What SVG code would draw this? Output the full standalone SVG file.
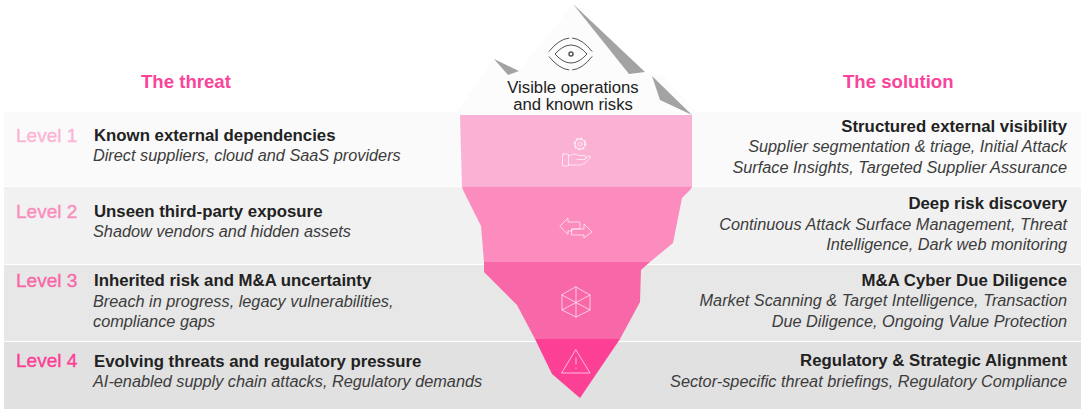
<svg xmlns="http://www.w3.org/2000/svg" width="1082" height="417" viewBox="0 0 1082 417">
<style>
text{font-family:"Liberation Sans",Arial,sans-serif}
.h{font-size:18.6px;font-weight:700;fill:#f9449a}
.l{font-size:19px;font-weight:400;stroke-width:.4px}
.t{font-size:16.8px;font-weight:700;fill:#222}
.s{font-size:16.3px;font-style:italic;fill:#3c3c3c}
.r{text-anchor:end}
.m{font-size:16.7px;fill:#222;text-anchor:middle}
.i{fill:none;stroke:#fff;stroke-opacity:.65;stroke-width:1;stroke-linejoin:round;stroke-linecap:round}
.e{fill:none;stroke:#555;stroke-width:1}
</style>
<rect width="1082" height="417" fill="#fff"/>
<g id="bands">
<rect x="4" y="112" width="1077" height="74" fill="#fafafa"/>
<rect x="4" y="187" width="1077" height="77" fill="#f1f1f1"/>
<rect x="4" y="265" width="1077" height="76" fill="#e7e7e7"/>
<rect x="4" y="342" width="1077" height="67" fill="#e1e1e1"/>
</g>
<g id="tip">
<path d="M457 112L494 59L519 71L573 4L629 74L645 72L653 76L663 75L697 112L692 115H460Z" fill="#fcfcfc"/>
<path d="M573 4L645 72L629 74Z" fill="#a3a3a3"/>
<path d="M494 59L519 71L508 75Z" fill="#a3a3a3"/>
<path d="M652 76L660 100L692 115Z" fill="#a3a3a3"/>
<g id="eye-icon" class="e">
<path d="M547 54Q571 22 594 54M547 54Q571 86 594 54" stroke-dasharray="25 3" stroke-dashoffset="-3"/>
<path d="M555 54Q571 36 587 54Q571 72 555 54Z"/>
<circle cx="571" cy="54" r="2" stroke-width="1.5"/>
</g>
<text class="m" x="573" y="92.500">Visible operations</text>
<text class="m" x="573" y="109.500">and known risks</text>
</g>
<g id="berg-1">
<path d="M460 115H692V187H462Z" fill="#fbb1d4"/>
<g class="i">
<circle cx="580" cy="144" r="2"/>
<circle cx="580" cy="144" r="5"/>
<circle cx="580" cy="144" r="5.500" stroke-dasharray="1.500 2.800" stroke-width="1.800"/>
<rect x="562.500" y="154" width="6" height="12" rx="1"/>
<path d="M568.500 156Q574 152.500 579 155.500H585Q587 157.500 585 159.500H577M585 158.500L589 156Q591 155.500 590 158Q587 163 581 165H568.500"/>
</g>
</g>
<g id="berg-2">
<path d="M462 187H692L690 190L682 198L673 243L650 262H484L481 226L463 190Z" fill="#fb8cbd"/>
<g class="i">
<path d="M560 226L568 218V222H580V229H572V231H568V234Z"/>
<path d="M572 229H584V224L592 232L584 238V235H572Z"/>
</g>
</g>
<g id="berg-3">
<path d="M484 262H650L641 270L640 302L620 339H535L517 305L484 272Z" fill="#f868a8"/>
<g class="i">
<path d="M576 287L590 295V310L576 317L562 310V295Z"/>
<path d="M576 287V317M562 295L590 310M590 295L562 310"/>
</g>
</g>
<g id="berg-4">
<path d="M535 339H620L580 398L552 374Z" fill="#fb4096"/>
<g class="i">
<path d="M576 350L590 373H562Z"/>
<path d="M576 358V364M576 368V368.500"/>
</g>
</g>
<g id="headings">
<text class="h" x="141" y="88">The threat</text>
<text class="h" x="843" y="88">The solution</text>
</g>
<g id="left-1">
<text class="l" x="16" y="142" fill="#fdb4d5" stroke="#fdb4d5">Level 1</text>
<text class="t" x="94" y="141">Known external dependencies</text>
<text class="s" x="93" y="161">Direct suppliers, cloud and SaaS providers</text>
</g>
<g id="left-2">
<text class="l" x="16" y="218" fill="#fb8cbd" stroke="#fb8cbd">Level 2</text>
<text class="t" x="94" y="217">Unseen third-party exposure</text>
<text class="s" x="93" y="237">Shadow vendors and hidden assets</text>
</g>
<g id="left-3">
<text class="l" x="16" y="287" fill="#f868a8" stroke="#f868a8">Level 3</text>
<text class="t" x="94" y="286">Inherited risk and M&amp;A uncertainty</text>
<text class="s" x="93" y="307">Breach in progress, legacy vulnerabilities,</text>
<text class="s" x="93" y="327">compliance gaps</text>
</g>
<g id="left-4">
<text class="l" x="16" y="367" fill="#fb4096" stroke="#fb4096">Level 4</text>
<text class="t" x="94" y="367">Evolving threats and regulatory pressure</text>
<text class="s" x="93" y="387">AI-enabled supply chain attacks, Regulatory demands</text>
</g>
<g id="right-1">
<text class="t r" x="1067" y="132">Structured external visibility</text>
<text class="s r" x="1067" y="152">Supplier segmentation &amp; triage, Initial Attack</text>
<text class="s r" x="1067" y="173">Surface Insights, Targeted Supplier Assurance</text>
</g>
<g id="right-2">
<text class="t r" x="1067" y="209">Deep risk discovery</text>
<text class="s r" x="1067" y="230">Continuous Attack Surface Management, Threat</text>
<text class="s r" x="1067" y="250">Intelligence, Dark web monitoring</text>
</g>
<g id="right-3">
<text class="t r" x="1067" y="286">M&amp;A Cyber Due Diligence</text>
<text class="s r" x="1067" y="306">Market Scanning &amp; Target Intelligence, Transaction</text>
<text class="s r" x="1067" y="327">Due Diligence, Ongoing Value Protection</text>
</g>
<g id="right-4">
<text class="t r" x="1067" y="366">Regulatory &amp; Strategic Alignment</text>
<text class="s r" x="1067" y="387">Sector-specific threat briefings, Regulatory Compliance</text>
</g>
<g id="connectors"/>
</svg>
